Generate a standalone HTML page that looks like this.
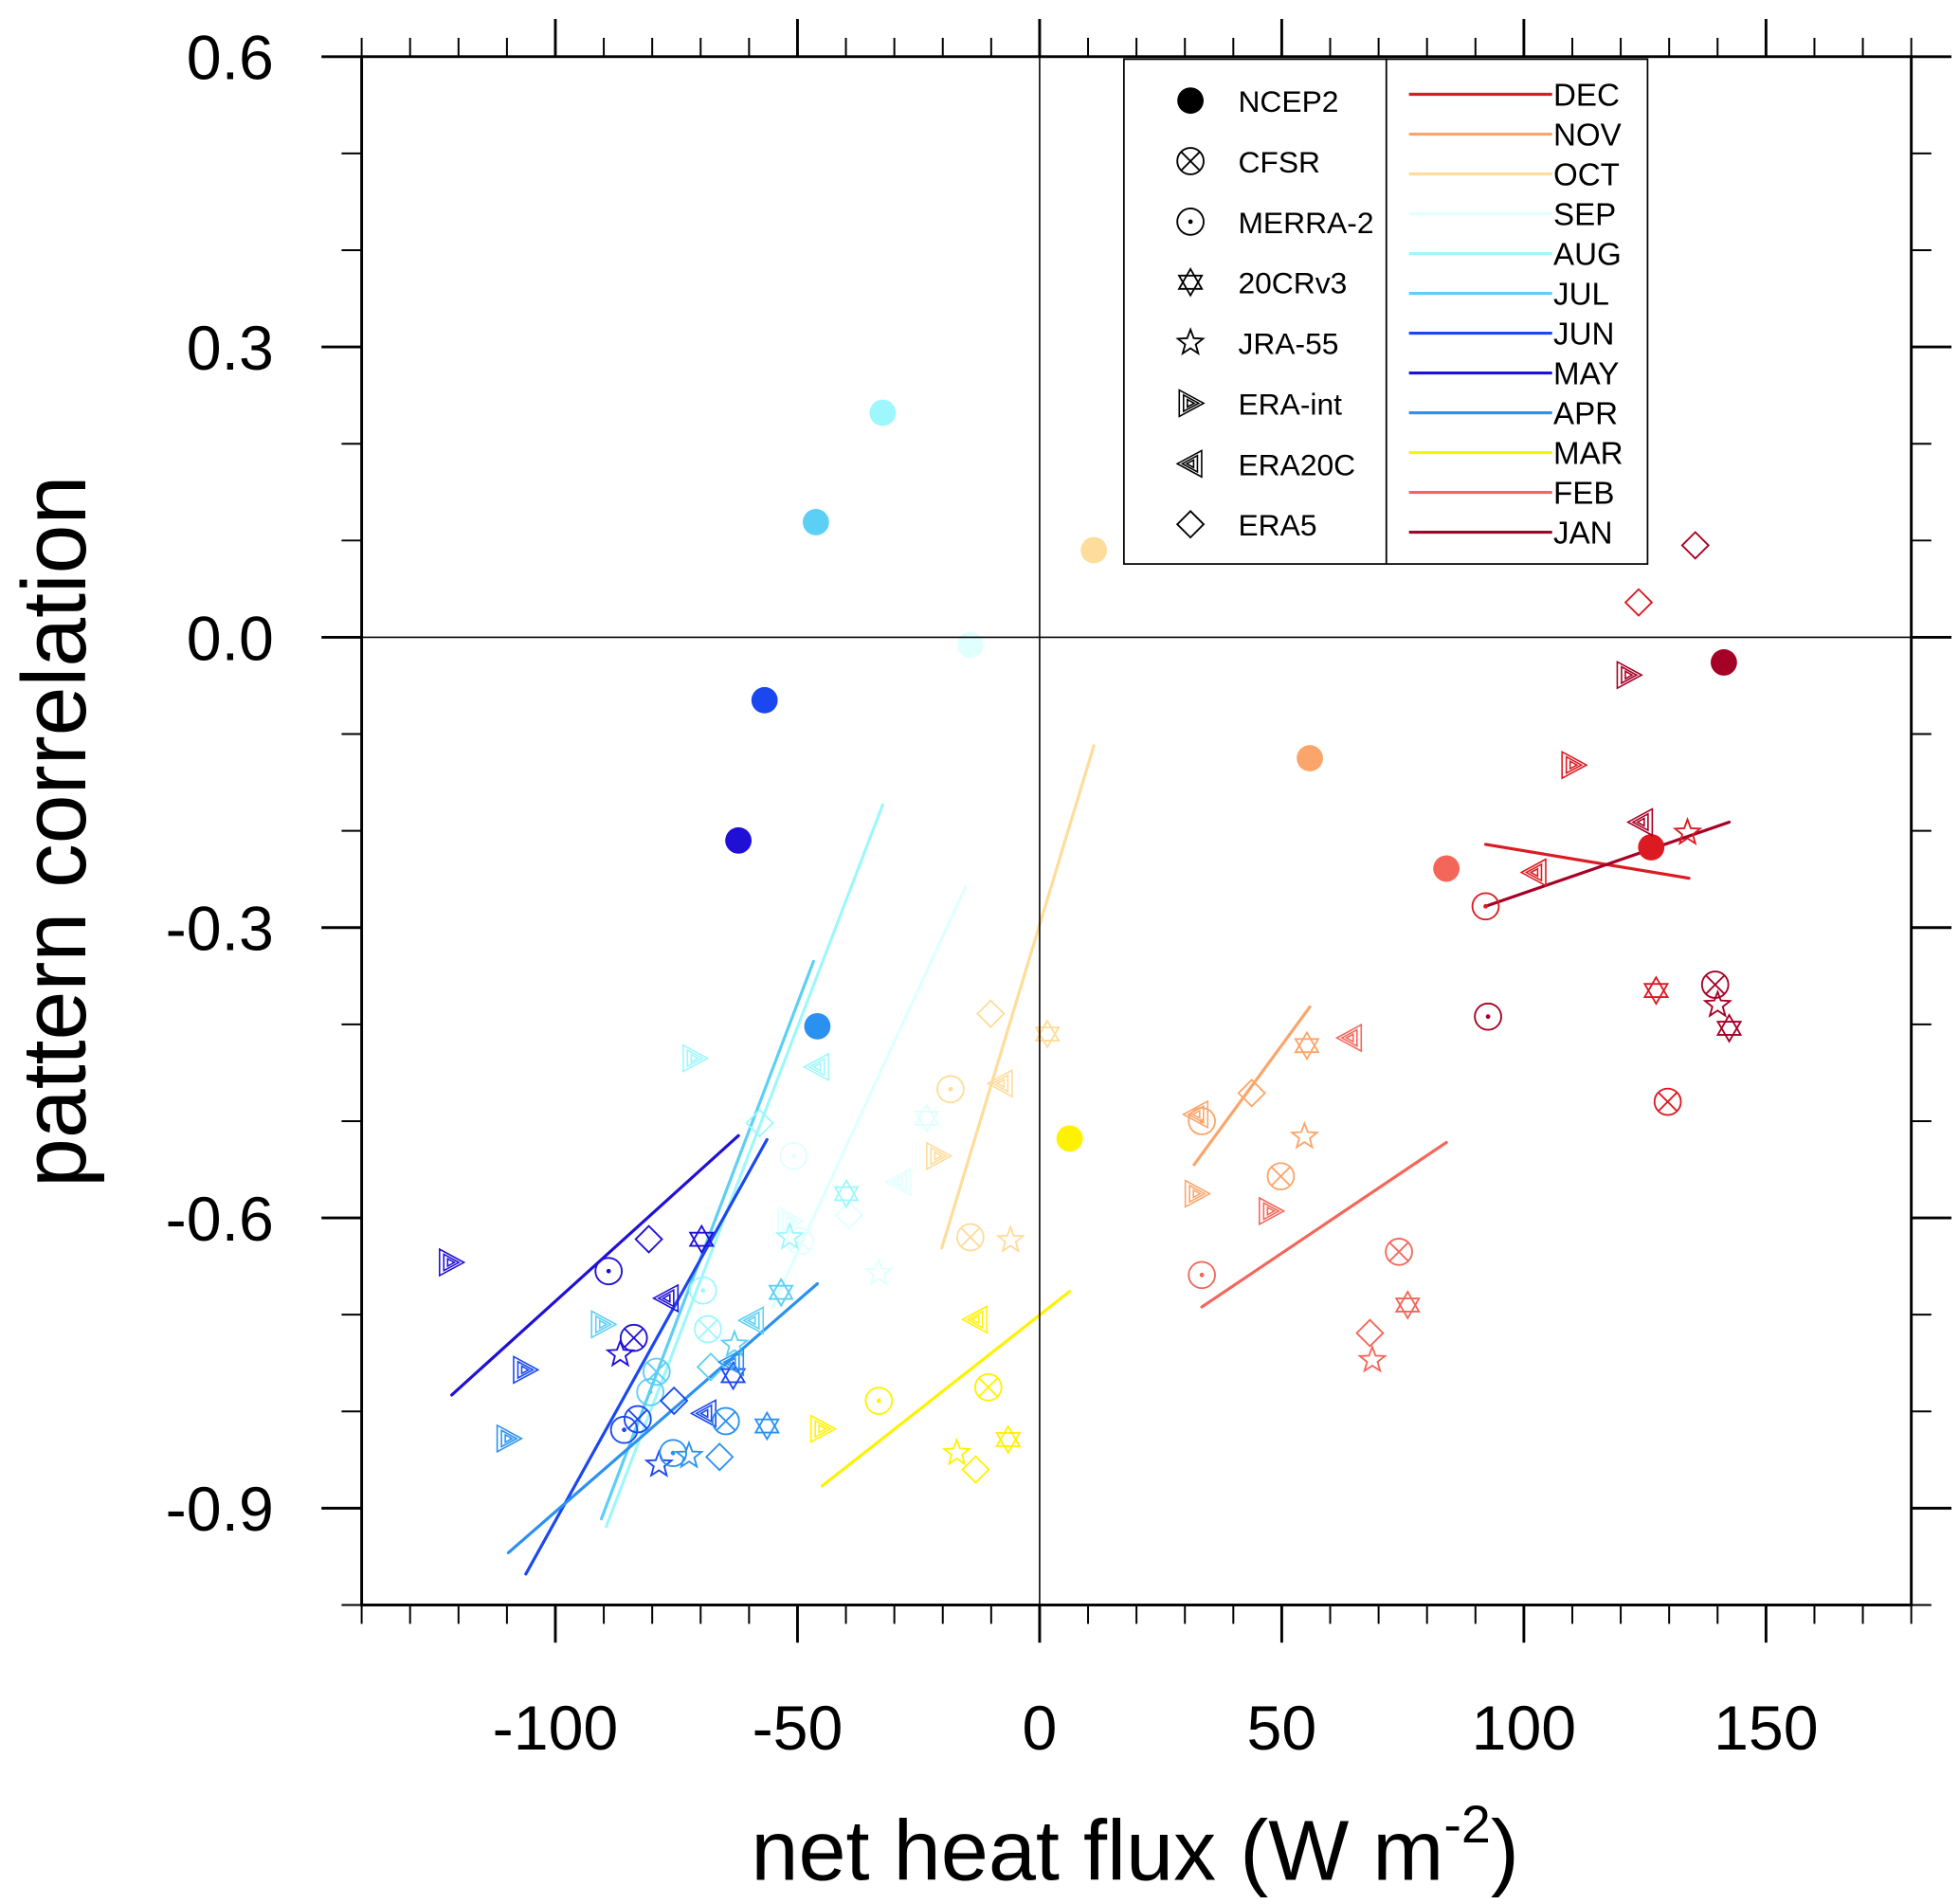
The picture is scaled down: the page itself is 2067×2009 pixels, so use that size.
<!DOCTYPE html>
<html><head><meta charset="utf-8"><style>
html,body{margin:0;padding:0;background:#fff}
svg{display:block;font-family:"Liberation Sans",Arial,sans-serif}
</style></head><body>
<svg id="chart" width="2067" height="2009" viewBox="0 0 1560 1516" xmlns="http://www.w3.org/2000/svg">
<g id="lines"></g>
<g id="marks"></g>
<g id="axes"></g>
<g id="legend"></g>
</svg>
<script>
// ---- data ----
const months = ["DEC","NOV","OCT","SEP","AUG","JUL","JUN","MAY","APR","MAR","FEB","JAN"];
const monthColors = ["#dc1a22","#fca56b","#fedc9a","#e0ffff","#9ef7fc","#5ccff5","#1a47f0","#2010d6","#2b91f0","#fff200","#f4665a","#a50026"];
const datasets = ["NCEP2","CFSR","MERRA-2","20CRv3","JRA-55","ERA-int","ERA20C","ERA5"];
// x values (net heat flux) per month, in dataset order
const xDEC = [126.3,129.7,92.1,127.3,133.8,110.2,102.2,123.7];
const yDEC = [-0.217,-0.480,-0.278,-0.365,-0.202,-0.132,-0.243,0.036];
const xNOV = [55.8,49.8,33.5,55.2,54.7,32.4,32.4,43.8];
const yNOV = [-0.125,-0.557,-0.500,-0.422,-0.516,-0.575,-0.493,-0.471];
const xOCT = [11.2,-14.3,-18.4,1.6,-6.0,-21.0,-8.0,-10.1];
const yOCT = [0.090,-0.620,-0.467,-0.410,-0.623,-0.536,-0.461,-0.389];
const xSEP = [-14.3,-49.5,-50.8,-23.3,-33.2,-51.6,-29.0,-39.4];
const ySEP = [-0.008,-0.624,-0.536,-0.497,-0.657,-0.603,-0.563,-0.597];
const xAUG = [-32.4,-68.5,-69.5,-39.9,-51.6,-71.3,-45.9,-57.8];
const yAUG = [0.232,-0.715,-0.675,-0.575,-0.620,-0.435,-0.444,-0.502];
const xJUL = [-46.2,-79.1,-80.4,-53.4,-63.0,-90.2,-59.4,-67.9];
const yJUL = [0.119,-0.759,-0.780,-0.677,-0.731,-0.710,-0.706,-0.754];
const xJUN = [-56.8,-83.0,-85.8,-63.3,-78.6,-106.3,-69.2,-75.5];
const yJUN = [-0.065,-0.808,-0.819,-0.763,-0.855,-0.757,-0.802,-0.789];
const xMAY = [-62.2,-83.8,-89.0,-69.8,-86.6,-121.6,-77.0,-80.7];
const yMAY = [-0.210,-0.724,-0.655,-0.622,-0.741,-0.646,-0.683,-0.622];
const xAPR = [-45.9,-64.8,-75.7,-56.3,-72.4,-109.7,-63.5,-66.1];
const yAPR = [-0.402,-0.810,-0.843,-0.815,-0.846,-0.828,-0.749,-0.847];
const xMAR = [6.2,-10.6,-33.2,-6.5,-17.1,-44.9,-13.2,-13.2];
const yMAR = [-0.518,-0.775,-0.789,-0.829,-0.843,-0.818,-0.705,-0.860];
const xFEB = [84.0,74.2,33.5,76.0,68.7,47.7,64.1,68.2];
const yFEB = [-0.239,-0.635,-0.659,-0.690,-0.747,-0.593,-0.414,-0.719];
const xJAN = [141.3,139.5,92.6,142.4,140.0,121.6,124.2,135.4];
const yJAN = [-0.026,-0.359,-0.392,-0.404,-0.380,-0.039,-0.191,0.095];
// regression line endpoints [x0,x1] and [y0,y1] per month (order of months)
const lineX = [[92.1,134.1],[31.9,55.8],[-20.2,11.2],[-55.2,-15.3],[-89.5,-32.4],[-90.5,-46.7],[-106.1,-56.3],[-121.4,-62.2],[-109.7,-45.9],[-44.9,6.2],[33.5,84.0],[92.1,142.4]];
const lineY = [[-0.214,-0.249],[-0.545,-0.382],[-0.631,-0.112],[-0.692,-0.258],[-0.919,-0.173],[-0.911,-0.335],[-0.968,-0.519],[-0.783,-0.515],[-0.946,-0.668],[-0.877,-0.676],[-0.692,-0.522],[-0.278,-0.191]];
const xTicks = [-100,-50,0,50,100,150];
const yTicks = [0.6,0.3,0.0,-0.3,-0.6,-0.9];
const yTickLabels = ["0.6","0.3","0.0","-0.3","-0.6","-0.9"];

const allX = [xDEC,xNOV,xOCT,xSEP,xAUG,xJUL,xJUN,xMAY,xAPR,xMAR,xFEB,xJAN];
const allY = [yDEC,yNOV,yOCT,ySEP,yAUG,yJUL,yJUN,yMAY,yAPR,yMAR,yFEB,yJAN];

// ---- axes functions ----
const L=288,R=1522,T=45,B=1278, XMIN=-140,XMAX=180,YMIN=-1.0,YMAX=0.6;
const sx = v => L + (v-XMIN)/(XMAX-XMIN)*(R-L);
const sy = v => B - (v-YMIN)/(YMAX-YMIN)*(B-T);
const NS="http://www.w3.org/2000/svg";
function mk(tag, attrs, parent){const e=document.createElementNS(NS,tag);for(const k in attrs)e.setAttribute(k,attrs[k]);parent.appendChild(e);return e;}

function drawMarker(g, type, cx, cy, color, r){
  r=r||10.5; const sw=1.4;
  const grp=mk("g",{},g);
  if(type===0){ mk("circle",{cx,cy,r,fill:color},grp); }
  else if(type===1){ mk("circle",{cx,cy,r,fill:"none",stroke:color,"stroke-width":sw},grp);
    const d=r*0.707; mk("path",{d:`M${cx-d},${cy-d}L${cx+d},${cy+d}M${cx-d},${cy+d}L${cx+d},${cy-d}`,stroke:color,"stroke-width":sw},grp);}
  else if(type===2){ mk("circle",{cx,cy,r,fill:"none",stroke:color,"stroke-width":sw},grp); mk("circle",{cx,cy,r:1.8,fill:color},grp);}
  else if(type===3){ const p=(a)=>[0,1,2].map(i=>{const t=a+i*2*Math.PI/3;return (cx+r*Math.sin(t)).toFixed(1)+","+(cy-r*Math.cos(t)).toFixed(1);}).join(" ");
    mk("polygon",{points:p(0),fill:"none",stroke:color,"stroke-width":sw},grp); mk("polygon",{points:p(Math.PI),fill:"none",stroke:color,"stroke-width":sw},grp);}
  else if(type===4){ let pts=[]; for(let i=0;i<10;i++){const rr=i%2?r*0.42:r;const t=i*Math.PI/5;pts.push((cx+rr*Math.sin(t)).toFixed(1)+","+(cy-rr*Math.cos(t)).toFixed(1));}
    mk("polygon",{points:pts.join(" "),fill:"none",stroke:color,"stroke-width":sw},grp);}
  else if(type===5||type===6){ const s=type===5?1:-1;
    [1,0.62,0.28].forEach(f=>{const h=r*f; const x0=cx-s*h*0.85, x1=cx+s*h;
      mk("polygon",{points:`${x0},${cy-h} ${x1},${cy} ${x0},${cy+h}`,fill:"none",stroke:color,"stroke-width":1.2},grp);});}
  else if(type===7){ mk("polygon",{points:`${cx},${cy-r} ${cx+r},${cy} ${cx},${cy+r} ${cx-r},${cy}`,fill:"none",stroke:color,"stroke-width":sw},grp);}
  return grp;
}

const gl=document.getElementById("lines"), gm=document.getElementById("marks"), ga=document.getElementById("axes"), gleg=document.getElementById("legend");

// zero lines
let z1=mk("line",{x1:L,x2:R,y1:sy(0),y2:sy(0),stroke:"#000","stroke-width":1.2},ga);


let z2=mk("line",{x1:sx(0),x2:sx(0),y1:T,y2:B,stroke:"#000","stroke-width":1.2},ga);



// regression lines
months.forEach((m,i)=>{
  const ln=mk("line",{x1:sx(lineX[i][0]),y1:sy(lineY[i][0]),x2:sx(lineX[i][1]),y2:sy(lineY[i][1]),stroke:monthColors[i],"stroke-width":2.4,"stroke-linecap":"round"},gl);
  
  
});
// markers
months.forEach((m,i)=>{
  for(let d=0; d<datasets.length; d++){
    const e=drawMarker(gm,d,sx(allX[i][d]),sy(allY[i][d]),monthColors[i]);
    
    
  }
});

// frame
let fr=mk("rect",{x:L,y:T,width:R-L,height:B-T,fill:"none",stroke:"#000","stroke-width":2.2},ga);


// x ticks
for(let v=-140; v<=180; v+=10){
  const major = xTicks.indexOf(v)>=0; const len = major?30:15; const X=sx(v);
  mk("line",{x1:X,x2:X,y1:T,y2:T-len,stroke:"#000","stroke-width":major?2.2:1.5},ga);
  mk("line",{x1:X,x2:X,y1:B,y2:B+len,stroke:"#000","stroke-width":major?2.2:1.5},ga);
}
xTicks.forEach(v=>{
  const t=mk("text",{x:sx(v),y:1393,"font-size":50,"text-anchor":"middle",fill:"#000"},ga);
  t.textContent=v;
  
  
});
// y ticks
for(let k=-10;k<=6;k++){
  const v=k/10; const major=(k%3===0); const len=major?32:16; const Y=sy(v);
  mk("line",{x1:L,x2:L-len,y1:Y,y2:Y,stroke:"#000","stroke-width":major?2.2:1.5},ga);
  mk("line",{x1:R,x2:R+len,y1:Y,y2:Y,stroke:"#000","stroke-width":major?2.2:1.5},ga);
}
yTicks.forEach((v,i)=>{
  const t=mk("text",{x:218,y:sy(v)+18,"font-size":50,"text-anchor":"end",fill:"#000"},ga);
  t.textContent=yTickLabels[i];
  
  
});
// titles
const yt=mk("text",{x:0,y:0,"font-size":72,"text-anchor":"middle",transform:"translate(68,662) rotate(-90)",fill:"#000",textLength:567,lengthAdjust:"spacingAndGlyphs"},ga);
yt.textContent="pattern correlation";


const xt=mk("text",{x:598,y:1497,"font-size":68,fill:"#000"},ga);


xt.innerHTML='net heat flux (W m<tspan dy="-30" font-size="42">-2</tspan><tspan dy="30">)</tspan>';

// legend
const lb1=mk("rect",{x:895,y:47,width:209,height:402,fill:"#fff",stroke:"#000","stroke-width":1.3},gleg);


const lb2=mk("rect",{x:1104,y:47,width:208,height:402,fill:"#fff",stroke:"#000","stroke-width":1.3},gleg);


datasets.forEach((d,i)=>{
  const y=80+i*48.2;
  const mkr=drawMarker(gleg,i,948,y,"#000",10.5);
  
  
  const t=mk("text",{x:986,y:y+9,"font-size":24,fill:"#000"},gleg);
  t.textContent=d;
  
  
});
months.forEach((m,i)=>{
  const y=75+i*31.7;
  const ln=mk("line",{x1:1122,x2:1236,y1:y,y2:y,stroke:monthColors[i],"stroke-width":2.4},gleg);
  
  
  const t=mk("text",{x:1237,y:y+9,"font-size":25,fill:"#000"},gleg);
  t.textContent=m;
  
  
});
</script>
</body></html>
